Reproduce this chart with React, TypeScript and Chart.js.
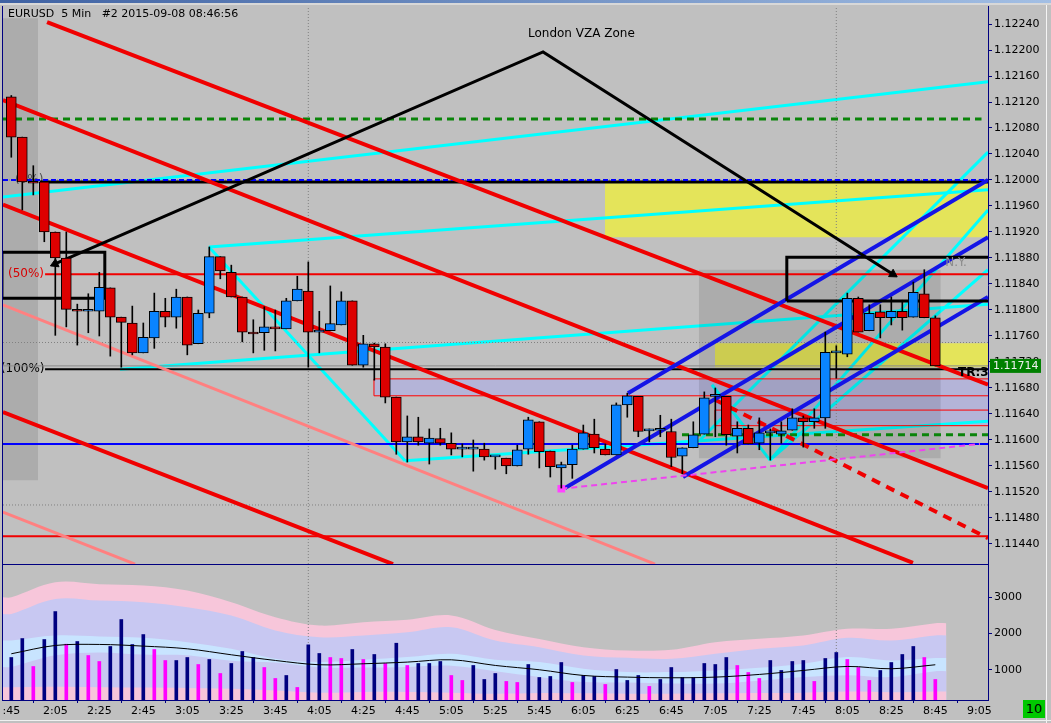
import React, { useEffect, useRef } from "react";
import { Chart, registerables } from "chart.js";

Chart.register(...registerables);

// ---------------- DATA ----------------
const xTickLabels = [":45", "2:05", "2:25", "2:45", "3:05", "3:25", "3:45", "4:05", "4:25", "4:45", "5:05", "5:25", "5:45", "6:05", "6:25", "6:45", "7:05", "7:25", "7:45", "8:05", "8:25", "8:45", "9:05"];
const volTickValues = [1000, 2000, 3000];

const openP = [
  1.12128, 1.12066, 1.11997, 1.11997, 1.11920, 1.11880, 1.11801, 1.11798, 1.11798, 1.11834,
  1.11789, 1.11780, 1.11734, 1.11757, 1.11798, 1.11789, 1.11820, 1.11748, 1.11795, 1.11882,
  1.11858, 1.11820, 1.11766, 1.11765, 1.11774, 1.11771, 1.11814, 1.11829, 1.11766, 1.11768,
  1.11777, 1.11814, 1.11715, 1.11748, 1.11743, 1.11666, 1.11597, 1.11605, 1.11595, 1.11602,
  1.11595, 1.11586, 1.11586, 1.11586, 1.11574, 1.11572, 1.11560, 1.11586, 1.11628, 1.11583,
  1.11557, 1.11562, 1.11586, 1.11609, 1.11586, 1.11577, 1.11654, 1.11667, 1.11614, 1.11615,
  1.11613, 1.11575, 1.11588, 1.11609, 1.11667, 1.11667, 1.11606, 1.11618, 1.11595, 1.11611,
  1.11609, 1.11615, 1.11634, 1.11628, 1.11634, 1.11734, 1.11732, 1.11818, 1.11768, 1.11797,
  1.11788, 1.11798, 1.11789, 1.11825, 1.11788,
];
const highP = [
  1.12130, 1.12066, 1.12022, 1.11997, 1.11920, 1.11920, 1.11809, 1.11825, 1.11858, 1.11834,
  1.11789, 1.11806, 1.11780, 1.11826, 1.11818, 1.11832, 1.11820, 1.11800, 1.11897, 1.11882,
  1.11869, 1.11820, 1.11785, 1.11805, 1.11800, 1.11818, 1.11852, 1.11874, 1.11798, 1.11837,
  1.11828, 1.11814, 1.11761, 1.11749, 1.11748, 1.11666, 1.11637, 1.11635, 1.11617, 1.11618,
  1.11611, 1.11594, 1.11600, 1.11595, 1.11574, 1.11572, 1.11592, 1.11635, 1.11628, 1.11583,
  1.11566, 1.11592, 1.11623, 1.11632, 1.11594, 1.11657, 1.11672, 1.11667, 1.11617, 1.11638,
  1.11632, 1.11588, 1.11628, 1.11674, 1.11680, 1.11667, 1.11628, 1.11623, 1.11634, 1.11617,
  1.11628, 1.11648, 1.11637, 1.11648, 1.11766, 1.11745, 1.11826, 1.11820, 1.11808, 1.11808,
  1.11820, 1.11815, 1.11843, 1.11862, 1.11791,
];
const lowP = [
  1.12035, 1.11954, 1.11977, 1.11905, 1.11761, 1.11774, 1.11746, 1.11765, 1.11760, 1.11729,
  1.11712, 1.11731, 1.11734, 1.11741, 1.11774, 1.11772, 1.11731, 1.11748, 1.11788, 1.11848,
  1.11820, 1.11751, 1.11734, 1.11738, 1.11737, 1.11771, 1.11814, 1.11712, 1.11734, 1.11768,
  1.11777, 1.11715, 1.11712, 1.11692, 1.11657, 1.11578, 1.11566, 1.11592, 1.11563, 1.11592,
  1.11577, 1.11574, 1.11552, 1.11569, 1.11555, 1.11548, 1.11560, 1.11578, 1.11557, 1.11543,
  1.11526, 1.11541, 1.11586, 1.11580, 1.11577, 1.11577, 1.11635, 1.11605, 1.11597, 1.11605,
  1.11559, 1.11548, 1.11588, 1.11609, 1.11605, 1.11592, 1.11580, 1.11594, 1.11585, 1.11569,
  1.11595, 1.11615, 1.11589, 1.11618, 1.11618, 1.11695, 1.11728, 1.11766, 1.11768, 1.11757,
  1.11777, 1.11769, 1.11789, 1.11788, 1.11714,
];
const closeP = [
  1.12066, 1.11997, 1.11995, 1.11920, 1.11880, 1.11801, 1.11798, 1.11798, 1.11835, 1.11789,
  1.11781, 1.11734, 1.11758, 1.11798, 1.11789, 1.11820, 1.11746, 1.11795, 1.11882, 1.11860,
  1.11820, 1.11766, 1.11763, 1.11774, 1.11771, 1.11814, 1.11832, 1.11766, 1.11769, 1.11779,
  1.11814, 1.11715, 1.11748, 1.11743, 1.11666, 1.11597, 1.11605, 1.11597, 1.11603, 1.11595,
  1.11586, 1.11586, 1.11586, 1.11574, 1.11574, 1.11560, 1.11585, 1.11631, 1.11582, 1.11559,
  1.11562, 1.11586, 1.11611, 1.11588, 1.11577, 1.11654, 1.11668, 1.11613, 1.11617, 1.11615,
  1.11573, 1.11588, 1.11608, 1.11665, 1.11667, 1.11608, 1.11618, 1.11594, 1.11611, 1.11611,
  1.11614, 1.11634, 1.11628, 1.11634, 1.11735, 1.11734, 1.11818, 1.11766, 1.11795, 1.11788,
  1.11798, 1.11788, 1.11827, 1.11788, 1.11714,
];

const volume = [
  1339, 1862, 1091, 1835, 2606, 1706, 1780, 1394, 1229, 1643,
  2386, 1697, 1972, 1560, 1256, 1256, 1339, 1146, 1284, 898,
  1174, 1505, 1339, 1063, 761, 843, 513, 1688, 1450, 1339,
  1312, 1560, 1284, 1422, 1174, 1733, 1119, 1174, 1174, 1229,
  843, 706, 1119, 733, 898, 679, 651, 1146, 788, 816,
  1201, 651, 843, 816, 596, 1008, 706, 843, 541, 733,
  1063, 788, 788, 1174, 1146, 1339, 1119, 926, 761, 1256,
  981, 1229, 1256, 679, 1312, 1477, 1284, 1063, 706, 981,
  1201, 1422, 1643, 1339, 733,
];
const volTone = [
  0, 0, 1, 0, 0, 1, 0, 1, 1, 0,
  0, 0, 0, 1, 1, 0, 0, 1, 0, 1,
  0, 0, 0, 1, 1, 0, 1, 0, 0, 1,
  1, 0, 1, 0, 1, 0, 1, 0, 0, 0,
  1, 1, 0, 0, 0, 1, 1, 0, 0, 0,
  0, 1, 0, 0, 1, 0, 0, 0, 1, 0,
  0, 0, 0, 0, 0, 0, 1, 1, 1, 0,
  0, 0, 0, 1, 0, 0, 1, 1, 1, 0,
  0, 0, 0, 1, 1,
];

// volume envelope bands, read every 4 bars
const bandBars = [0, 4, 8, 12, 16, 20, 24, 28, 32, 36, 40, 44, 48, 52, 56, 60, 64, 68, 72, 76, 80, 84];
const bandPinkTop = [3000, 3414, 3360, 3322, 3184, 2863, 2450, 2221, 2313, 2380, 2500, 2100, 1850, 1625, 1533, 1551, 1762, 1854, 1946, 2129, 2129, 2285];
const bandLavTop = [2542, 2955, 2909, 2863, 2725, 2496, 2084, 1900, 1946, 2037, 2175, 1808, 1625, 1395, 1331, 1303, 1441, 1579, 1671, 1882, 1808, 1946];
const bandBlueTop = [1808, 1946, 1919, 1882, 1762, 1579, 1303, 1212, 1276, 1350, 1442, 1276, 1212, 1028, 936, 936, 982, 1055, 1166, 1350, 1258, 1322];
const volAverage = [1442, 1671, 1699, 1653, 1579, 1414, 1258, 1139, 1166, 1212, 1276, 1120, 1001, 844, 798, 780, 798, 872, 982, 1093, 1028, 1139];
const bandBlueBot = [1080, 1400, 1480, 1420, 1400, 1250, 1200, 1070, 1060, 1080, 1110, 960, 800, 660, 650, 620, 620, 700, 800, 850, 800, 960];
const bandPinkBot = [520, 530, 520, 510, 500, 480, 430, 370, 390, 390, 370, 340, 360, 350, 340, 340, 350, 360, 370, 400, 380, 400];

// chart objects in (bar, price) coordinates
const redTrend = [
  [3.25, 1.12243, 88.79, 1.11685],
  [-0.76, 1.12123, 88.79, 1.11526],
  [-0.76, 1.11962, 81.97, 1.11411],
  [-0.76, 1.11643, 34.7, 1.11409],
];
const salmonTrend = [
  [-0.76, 1.11808, 58.52, 1.11409],
  [-0.76, 1.11489, 11.25, 1.11409],
];
const redDashTrend = [63.97, 1.11662, 88.79, 1.11449];
const cyanTrend = [
  [-0.76, 1.11974, 88.79, 1.12151],
  [17.97, 1.11897, 88.79, 1.11985],
  [9.88, 1.11709, 88.79, 1.11809],
  [17.97, 1.11897, 35.79, 1.11568],
  [35.79, 1.11568, 88.79, 1.11629],
  [62.61, 1.11600, 88.79, 1.12043],
  [68.97, 1.11569, 88.79, 1.11954],
  [68.97, 1.11569, 88.79, 1.11862],
  [63.7, 1.11685, 68.97, 1.11569],
];
const blueTrend = [
  [50.34, 1.11526, 88.79, 1.11912],
  [56.06, 1.11672, 88.79, 1.12000],
  [61.06, 1.11543, 88.79, 1.11820],
];
const magentaTrend = [50.0, 1.11525, 88.06, 1.11594];
const arrowBars = [3.97, 48.34, 80.15];
const arrowPrices = [1.11871, 1.12197, 1.11855];

const levelGreenDash = 1.12094;
const levelBlueDash = 1.12000;
const levelFib0 = 1.11997;
const levelFib50 = 1.11855;
const levelFib100 = 1.11709;
const levelBlue = 1.11594;
const levelRed = 1.11452;
const levelGreenDash2 = 1.11608;
const zoneA = [32.97, 1.11668, 1.11694];
const zoneB = [63.97, 1.11622, 1.11668, 1.11646];
const yellowA = [53.97, 1.11912, 1.11997];
const yellowB = [63.97, 1.11712, 1.11749];
const sessionBox = [62.5, 84.5, 1.11572, 1.11862];
const leftBox = [-0.76, 2.43, 1.11538, 1.12249];
const blackBoxes = [
  [-0.85, 8.5, 1.11818, 1.11889],
  [70.5, 89.2, 1.11814, 1.11881],
];
const gridBars = [27, 75];
const gridPrices = [1.12, 1.1175, 1.115];

const fibText = ["(0%)", "(50%)", "(100%)"];
const fibBar = [0.34, -0.3, -0.95];
const fibPrice = [1.12000, 1.11855, 1.11709];
const noteText = ["London VZA Zone", "N.Y.", "TR:3"];
const noteBar = [46.97, 84.9, 86.06];
const notePrice = [1.12225, 1.11872, 1.11703];
const titleText = "EURUSD  5 Min   #2 2015-09-08 08:46:56";

// ---------------- SETUP ----------------
const X_MIN = -0.755;
const X_MAX = 88.79;
const P_MIN = 1.114092;
const P_MAX = 1.122677;
const V_MIN = 167;
const V_MAX = 3890;
const NAVY = "#000080";
const FONT = '"DejaVu Sans", sans-serif';

function seg(x1: number, y1: number, x2: number, y2: number, color: string, width: number, order: number, dash: number[] = []) {
  return {
    type: "line",
    data: [{ x: x1, y: y1 }, { x: x2, y: y2 }],
    borderColor: color,
    borderWidth: width,
    borderDash: dash,
    borderCapStyle: "butt",
    pointRadius: 0,
    fill: false,
    tension: 0,
    order,
  };
}
function rect(x1: number, x2: number, yLo: number, yHi: number, color: string, order: number) {
  return {
    type: "line",
    data: [{ x: x1, y: yHi }, { x: x2, y: yHi }],
    borderWidth: 0,
    borderColor: "rgba(0,0,0,0)",
    backgroundColor: color,
    fill: { value: yLo },
    pointRadius: 0,
    tension: 0,
    order,
  };
}
function outline(b: number[], color: string, width: number, order: number) {
  const [x1, x2, y1, y2] = b;
  return {
    type: "line",
    data: [{ x: x1, y: y1 }, { x: x2, y: y1 }, { x: x2, y: y2 }, { x: x1, y: y2 }, { x: x1, y: y1 }],
    borderColor: color,
    borderWidth: width,
    pointRadius: 0,
    fill: false,
    tension: 0,
    order,
  };
}

function mainDatasets(): any[] {
  const ds: any[] = [];
  ds.push(rect(leftBox[0], leftBox[1], leftBox[2], leftBox[3], "rgba(0,0,0,0.1)", 101));
  ds.push(rect(yellowA[0], X_MAX, yellowA[1], yellowA[2], "#E4E45A", 101));
  ds.push(rect(yellowB[0], X_MAX, yellowB[1], yellowB[2], "#E4E45A", 101));
  ds.push(rect(zoneA[0], X_MAX, zoneA[1], zoneA[2], "#B4B4D8", 101));
  ds.push(rect(zoneB[0], X_MAX, zoneB[1], zoneB[2], "#B4B4D8", 101));
  // cyan channel lines sit beneath the translucent session box
  cyanTrend.forEach((t) => ds.push(seg(t[0], t[1], t[2], t[3], "#00FFFF", 3, 99)));
  ds.push(rect(sessionBox[0], sessionBox[1], sessionBox[2], sessionBox[3], "rgba(0,0,0,0.1)", 98));
  gridBars.forEach((b) => ds.push(seg(b, P_MIN, b, P_MAX, "#808080", 1, 96, [1, 2])));
  gridPrices.forEach((p) => ds.push(seg(X_MIN, p, X_MAX, p, "#808080", 1, 96, [1, 2])));
  ds.push(seg(zoneA[0], zoneA[1], X_MAX, zoneA[1], "#FF0000", 1, 94));
  ds.push(seg(zoneA[0], zoneA[2], X_MAX, zoneA[2], "#FF0000", 1, 94));
  ds.push(seg(zoneA[0], zoneA[1], zoneA[0], zoneA[2], "#FF0000", 1, 94));
  ds.push(seg(zoneB[0], zoneB[1], X_MAX, zoneB[1], "#FF0000", 1, 94));
  ds.push(seg(zoneB[0], zoneB[3], X_MAX, zoneB[3], "#FF0000", 1, 94));
  ds.push(seg(zoneB[0], zoneB[1], zoneB[0], zoneB[3], "#FF0000", 1, 94));
  ds.push(seg(X_MIN, closeP[closeP.length - 1], X_MAX, closeP[closeP.length - 1], "#8A8A8A", 1, 95));
  ds.push(seg(X_MIN, levelGreenDash, 88.2, levelGreenDash, "#0A840A", 3, 60, [7, 5]));
  ds.push(seg(60.97, levelGreenDash2, X_MAX, levelGreenDash2, "#0A840A", 3, 60, [7, 5]));
  ds.push(seg(X_MIN, levelBlue, X_MAX, levelBlue, "#0000FF", 2, 60));
  ds.push(seg(X_MIN, levelRed, X_MAX, levelRed, "#F00000", 2, 60));
  ds.push(seg(3.07, levelFib50, X_MAX, levelFib50, "#F00000", 2, 60));
  ds.push(seg(3.07, levelFib100, X_MAX, levelFib100, "#000000", 2, 60));
  ds.push(seg(2.6, levelFib0, X_MAX, levelFib0, "#000000", 3, 59));
  ds.push(seg(X_MIN, levelBlueDash, X_MAX, levelBlueDash, "#0000FF", 2, 58, [5, 3]));
  salmonTrend.forEach((t) => ds.push(seg(t[0], t[1], t[2], t[3], "#FF8080", 3, 56)));
  redTrend.forEach((t) => ds.push(seg(t[0], t[1], t[2], t[3], "#F00000", 4, 55)));
  ds.push(seg(redDashTrend[0], redDashTrend[1], redDashTrend[2], redDashTrend[3], "#F00000", 4, 55, [9, 7]));
  blueTrend.forEach((t) => ds.push(seg(t[0], t[1], t[2], t[3], "#1414E6", 4, 53)));
  const mg: any = seg(magentaTrend[0], magentaTrend[1], magentaTrend[2], magentaTrend[3], "#EE44EE", 2, 52, [6, 4]);
  mg.pointRadius = [4, 0];
  mg.pointStyle = "rect";
  mg.pointBackgroundColor = "#FF44FF";
  mg.pointBorderColor = "#FF44FF";
  ds.push(mg);
  blackBoxes.forEach((b) => ds.push(outline(b, "#000000", 3, 40)));
  ds.push({
    type: "line",
    data: arrowBars.map((b, i) => ({ x: b, y: arrowPrices[i] })),
    borderColor: "#000000",
    borderWidth: 3,
    pointRadius: [5, 0, 5],
    pointStyle: "triangle",
    pointRotation: [246, 0, 122],
    pointBackgroundColor: "#000000",
    pointBorderColor: "#000000",
    pointBorderWidth: 1,
    fill: false,
    tension: 0,
    order: 40,
  });
  ds.push({
    type: "bar",
    data: highP.map((h, i) => ({ x: i, y: [lowP[i], h] })),
    backgroundColor: "#000000",
    barThickness: 1,
    grouped: false,
    order: 3,
  });
  ds.push({
    type: "bar",
    data: openP.map((o, i) => ({ x: i, y: [o, closeP[i]] })),
    backgroundColor: openP.map((o, i) => (closeP[i] < o ? "#DD0000" : "#0A84FF")),
    borderColor: "#000000",
    borderWidth: 1,
    borderSkipped: false,
    barThickness: 10,
    minBarLength: 2,
    grouped: false,
    order: 2,
  });
  return ds;
}

// draws the right-hand axis labels from the scale's own ticks
function drawRightLabels(chart: any, fmt: (v: number) => string) {
  const { ctx, chartArea: a, scales } = chart;
  ctx.save();
  ctx.font = "11px " + FONT;
  ctx.fillStyle = "#000000";
  ctx.textAlign = "left";
  ctx.textBaseline = "middle";
  scales.y.ticks.forEach((t: any) => {
    ctx.fillText(fmt(t.value), a.right + 6, scales.y.getPixelForValue(t.value));
  });
  ctx.restore();
}

const mainDecor = {
  id: "mainDecor",
  beforeDatasetsDraw(chart: any) {
    const { ctx, chartArea: a, scales } = chart;
    ctx.save();
    ctx.beginPath();
    ctx.rect(a.left, a.top, a.right - a.left, a.bottom - a.top);
    ctx.clip();
    ctx.font = "12px " + FONT;
    ctx.textBaseline = "middle";
    ctx.textAlign = "left";
    const colors = ["#505050", "#F00000", "#000000"];
    fibText.forEach((t, i) => {
      ctx.fillStyle = colors[i];
      ctx.fillText(t, scales.x.getPixelForValue(fibBar[i]), scales.y.getPixelForValue(fibPrice[i]));
    });
    ctx.restore();
  },
  afterDatasetsDraw(chart: any) {
    const { ctx, chartArea: a, scales } = chart;
    ctx.save();
    ctx.beginPath();
    ctx.rect(a.left, a.top, a.right - a.left, a.bottom - a.top);
    ctx.clip();
    ctx.textBaseline = "middle";
    ctx.textAlign = "left";
    const fonts = ["12px " + FONT, "12px " + FONT, "bold 12px " + FONT];
    const colors = ["#000000", "#8C8C8C", "#000000"];
    noteText.forEach((t, i) => {
      ctx.font = fonts[i];
      ctx.fillStyle = colors[i];
      ctx.fillText(t, scales.x.getPixelForValue(noteBar[i]), scales.y.getPixelForValue(notePrice[i]));
    });
    ctx.restore();
  },
  afterDraw(chart: any) {
    const { ctx, chartArea: a, scales } = chart;
    drawRightLabels(chart, (v) => v.toFixed(5));
    ctx.save();
    ctx.fillStyle = NAVY;
    ctx.fillRect(a.left - 1, a.top, 1, a.bottom - a.top + 1);
    ctx.fillRect(a.left - 1, a.bottom, a.right - a.left + 1, 1);
    ctx.font = "11px " + FONT;
    ctx.fillStyle = "#000000";
    ctx.textBaseline = "middle";
    ctx.textAlign = "left";
    ctx.fillText(titleText, a.left + 5, a.top + 8);
    const last = closeP[closeP.length - 1];
    const py = scales.y.getPixelForValue(last);
    ctx.fillStyle = "#008000";
    ctx.fillRect(a.right + 2, py - 7, 51, 14);
    ctx.fillStyle = "#F0F0F0";
    ctx.fillText(last.toFixed(5), a.right + 5, py);
    ctx.restore();
  },
};

function bandPoints(vals: number[]) {
  const pts = bandBars.map((b, i) => ({ x: b, y: vals[i] }));
  return [{ x: X_MIN, y: vals[0] }, ...pts, { x: 85, y: vals[vals.length - 1] }];
}
function band(vals: number[], color: string, order: number) {
  return {
    type: "line",
    data: bandPoints(vals),
    borderWidth: 0,
    borderColor: "rgba(0,0,0,0)",
    backgroundColor: color,
    fill: "start",
    pointRadius: 0,
    tension: 0.35,
    order,
  };
}

const volDecor = {
  id: "volDecor",
  afterDraw(chart: any) {
    const { ctx, chartArea: a } = chart;
    drawRightLabels(chart, (v) => String(v));
    ctx.save();
    ctx.fillStyle = NAVY;
    ctx.fillRect(a.left - 1, a.top, 1, a.bottom - a.top + 1);
    ctx.restore();
  },
};

export default function App() {
  const mainRef = useRef<HTMLCanvasElement>(null);
  const volRef = useRef<HTMLCanvasElement>(null);

  useEffect(() => {
    Chart.defaults.font.family = FONT;
    const tickFont = { family: FONT, size: 11 };
    const main = new Chart(mainRef.current as HTMLCanvasElement, {
      type: "line",
      data: { datasets: mainDatasets() },
      options: {
        animation: false,
        responsive: false,
        maintainAspectRatio: false,
        events: [],
        layout: { autoPadding: false, padding: { left: 3, top: 6, right: 0, bottom: 1 } },
        plugins: { legend: { display: false }, tooltip: { enabled: false }, title: { display: false } },
        scales: {
          x: { type: "linear", min: X_MIN, max: X_MAX, display: false, offset: false },
          y: {
            type: "linear",
            position: "right",
            min: P_MIN,
            max: P_MAX,
            ticks: { stepSize: 0.0004, includeBounds: false, display: false },
            grid: { drawOnChartArea: false, color: NAVY, tickLength: 4 },
            border: { color: NAVY, width: 1 },
            afterFit: (s: any) => {
              s.width = 63;
              s.paddingTop = 0;
              s.paddingBottom = 0;
            },
          },
        },
      } as any,
      plugins: [mainDecor],
    } as any);

    const volDatasets: any[] = [
      band(bandPinkTop, "#F7C6DA", 50),
      band(bandLavTop, "#C8C8F2", 49),
      band(bandBlueTop, "#C8E4FF", 48),
      band(bandBlueBot, "#C8C8F2", 47),
      band(bandPinkBot, "#F7C6DA", 46),
      ...gridBars.map((b) => seg(b, V_MIN, b, V_MAX, "#808080", 1, 20, [1, 2])),
      {
        type: "bar",
        data: volume.map((v, i) => ({ x: i, y: v })),
        backgroundColor: volTone.map((t) => (t ? "#FF00FF" : NAVY)),
        barThickness: 3,
        grouped: false,
        order: 10,
      },
      {
        type: "line",
        data: bandBars.map((b, i) => ({ x: b, y: volAverage[i] })),
        borderColor: "#000000",
        borderWidth: 1,
        pointRadius: 0,
        fill: false,
        tension: 0.35,
        order: 5,
      },
    ];

    const vol = new Chart(volRef.current as HTMLCanvasElement, {
      type: "line",
      data: { datasets: volDatasets },
      options: {
        animation: false,
        responsive: false,
        maintainAspectRatio: false,
        events: [],
        layout: { autoPadding: false, padding: { left: 3, top: 0, right: 0, bottom: 0 } },
        plugins: { legend: { display: false }, tooltip: { enabled: false } },
        scales: {
          x: {
            type: "linear",
            min: X_MIN,
            max: X_MAX,
            offset: false,
            ticks: {
              stepSize: 4,
              includeBounds: false,
              autoSkip: false,
              maxRotation: 0,
              minRotation: 0,
              color: "#000000",
              font: tickFont,
              padding: 2,
              callback: (v: any) => xTickLabels[Math.round(Number(v) / 4)] ?? "",
            },
            grid: { drawOnChartArea: false, color: NAVY, tickLength: 3 },
            border: { color: NAVY, width: 1 },
            afterFit: (s: any) => {
              s.height = 23;
              s.paddingLeft = 0;
              s.paddingRight = 0;
            },
          },
          y: {
            type: "linear",
            position: "right",
            min: V_MIN,
            max: V_MAX,
            afterBuildTicks: (s: any) => {
              s.ticks = volTickValues.map((v) => ({ value: v }));
            },
            ticks: { display: false },
            grid: { drawOnChartArea: false, color: NAVY, tickLength: 4 },
            border: { color: NAVY, width: 1 },
            afterFit: (s: any) => {
              s.width = 63;
              s.paddingTop = 0;
              s.paddingBottom = 0;
            },
          },
        },
      } as any,
      plugins: [volDecor],
    } as any);

    return () => {
      main.destroy();
      vol.destroy();
    };
  }, []);

  return (
    <div style={{ position: "fixed", left: 0, top: 0, width: 1051, height: 723, background: "#C0C0C0", overflow: "hidden" }}>
      <div style={{ position: "absolute", left: 0, top: 0, width: 1051, height: 565 }}>
        <canvas ref={mainRef} width={1051} height={565} style={{ display: "block", width: 1051, height: 565 }} />
      </div>
      <div style={{ position: "absolute", left: 0, top: 565, width: 1051, height: 158 }}>
        <canvas ref={volRef} width={1051} height={158} style={{ display: "block", width: 1051, height: 158 }} />
      </div>
      <div style={{ position: "absolute", left: 0, top: 0, width: 1051, height: 3, background: "linear-gradient(to right, #3f62a3, #a3bfe4)" }} />
      <div style={{ position: "absolute", left: 0, top: 3, width: 1051, height: 2, background: "#D8D8D8" }} />
      <div style={{ position: "absolute", left: 1046, top: 5, width: 1, height: 718, background: "#F4F4F4" }} />
      <div style={{ position: "absolute", left: 0, top: 720, width: 1051, height: 1, background: "#F0F0F0" }} />
      <div
        style={{
          position: "absolute",
          left: 1023,
          top: 700,
          width: 22,
          height: 18,
          background: "#00C800",
          color: "#000000",
          font: '13px "DejaVu Sans", sans-serif',
          lineHeight: "18px",
          textAlign: "center",
        }}
      >
        10
      </div>
    </div>
  );
}
